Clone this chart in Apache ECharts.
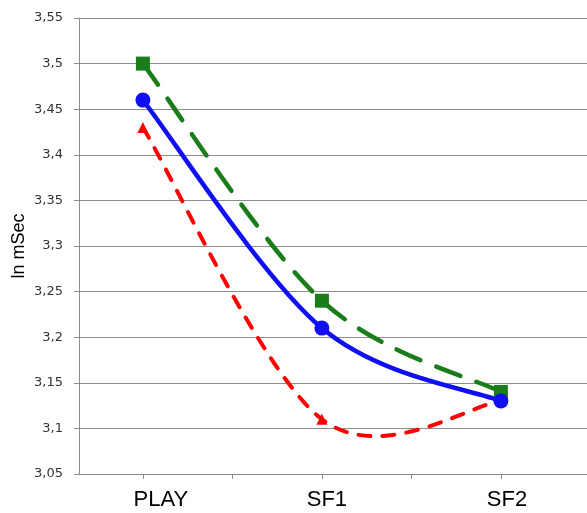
<!DOCTYPE html>
<html>
<head>
<meta charset="utf-8">
<script src="https://cdn.jsdelivr.net/npm/echarts@6/dist/echarts.min.js"></script>
<style>
  html, body { margin: 0; padding: 0; background: #fff; }
  #chart { width: 587px; height: 513px; }
</style>
</head>
<body>
<div id="chart"></div>
<script>
// Conditions along the x axis
const categories = ['PLAY', 'SF1', 'SF2'];
// ln mSec per condition
const greenSeries = [3.50, 3.24, 3.14];
const blueSeries  = [3.46, 3.21, 3.13];
const redSeries   = [3.43, 3.11, 3.13];
// y-axis range
const yMin = 3.05, yMax = 3.55, yStep = 0.05;

const toPoints = arr => arr.map((v, i) => [i, v]);
const fmtComma = v => String(Math.round(v * 100) / 100).replace('.', ',');

// Smoothed curve through the data points (Catmull-Rom style cubic Beziers),
// converted to pixels with the chart's own coordinate system.
function curveSeries(values, color, width, dash) {
  return {
    type: 'custom',
    z: 2,
    data: toPoints(values),
    renderItem(params, api) {
      if (params.dataIndex !== 0) return { type: 'group', children: [] };
      const p = values.map((v, i) => api.coord([i, v]));
      let d = 'M' + p[0][0] + ' ' + p[0][1];
      for (let i = 0; i < p.length - 1; i++) {
        const p0 = p[Math.max(i - 1, 0)];
        const p1 = p[i];
        const p2 = p[i + 1];
        const p3 = p[Math.min(i + 2, p.length - 1)];
        const c1x = p1[0] + (p2[0] - p0[0]) / 6;
        const c1y = p1[1] + (p2[1] - p0[1]) / 6;
        const c2x = p2[0] - (p3[0] - p1[0]) / 6;
        const c2y = p2[1] - (p3[1] - p1[1]) / 6;
        d += ' C' + c1x + ' ' + c1y + ' ' + c2x + ' ' + c2y + ' ' + p2[0] + ' ' + p2[1];
      }
      return {
        type: 'path',
        shape: { pathData: d },
        style: {
          fill: 'none', stroke: color, lineWidth: width,
          lineDash: dash || null, lineCap: 'round', lineJoin: 'round'
        }
      };
    }
  };
}

function markerSeries(values, color, symbol, size) {
  return {
    type: 'scatter',
    z: 3,
    data: toPoints(values),
    symbol: symbol,
    symbolSize: size,
    itemStyle: { color: color, opacity: 1 }
  };
}

const RED = '#ff0000', GREEN = '#1a7d1a', BLUE = '#0f0ff2';

const chart = echarts.init(document.getElementById('chart'));
chart.setOption({
  animation: false,
  backgroundColor: '#ffffff',
  grid: {
    left: 79, right: 0, top: 18, bottom: 39,
    containLabel: false, outerBoundsMode: 'none'
  },
  xAxis: {
    type: 'value',
    min: -0.357,
    max: 2.481,
    axisLine: { show: true, onZero: false, lineStyle: { color: '#8c8c8c', width: 1 } },
    axisTick: {
      show: true, length: 5, lineStyle: { color: '#8c8c8c' },
      customValues: [0, 0.5, 1, 1.5, 2]
    },
    axisLabel: {
      // category names sit a little right of their tick marks
      customValues: [0.1, 1.028, 2.034],
      formatter: v => categories[Math.round(v)],
      color: '#000', fontFamily: 'Liberation Sans', fontSize: 22, margin: 15
    },
    splitLine: { show: false }
  },
  yAxis: {
    type: 'value',
    min: yMin, max: yMax, interval: yStep,
    name: 'ln mSec',
    nameLocation: 'middle',
    nameGap: 51,
    nameMoveOverlap: false,
    nameTextStyle: { color: '#000', fontFamily: 'Liberation Sans', fontSize: 18 },
    axisLine: { show: true, onZero: false, lineStyle: { color: '#8c8c8c', width: 1 } },
    axisTick: { show: true, length: 5, lineStyle: { color: '#8c8c8c' } },
    axisLabel: {
      formatter: fmtComma,
      color: '#333', fontFamily: 'DejaVu Sans', fontSize: 13, margin: 16
    },
    splitLine: { show: true, lineStyle: { color: '#8c8c8c', width: 1 } }
  },
  series: [
    curveSeries(redSeries, RED, 4, [12, 12]),
    curveSeries(greenSeries, GREEN, 4.5, [26, 17]),
    curveSeries(blueSeries, BLUE, 4.5, null),
    markerSeries(redSeries, RED, 'triangle', 11),
    markerSeries(greenSeries, GREEN, 'rect', 14),
    markerSeries(blueSeries, BLUE, 'circle', 15)
  ]
});
</script>
</body>
</html>
